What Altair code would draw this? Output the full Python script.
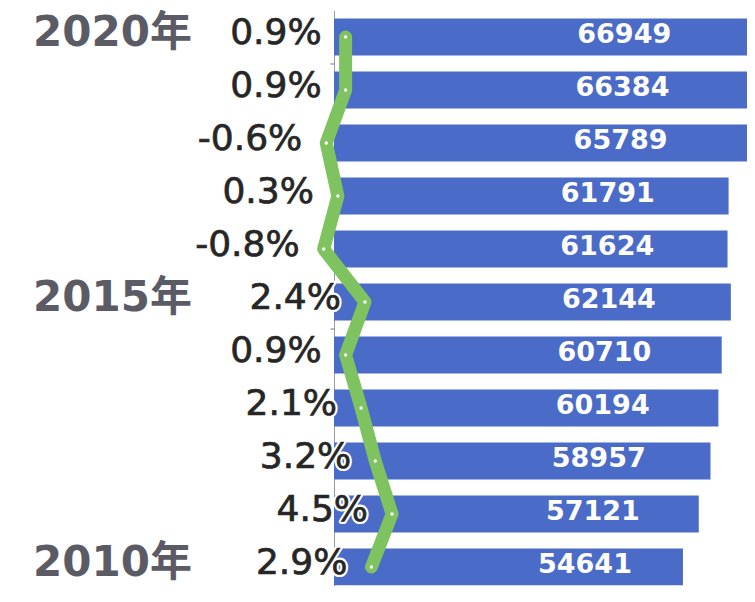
import altair as alt
import pandas as pd

# ---- data ----
years = ["2020", "2019", "2018", "2017", "2016", "2015", "2014", "2013", "2012", "2011", "2010"]
output = [66949, 66384, 65789, 61791, 61624, 62144, 60710, 60194, 58957, 57121, 54641]
growth = [0.9, 0.9, -0.6, 0.3, -0.8, 2.4, 0.9, 2.1, 3.2, 4.5, 2.9]
growth_labels = ["0.9%", "0.9%", "-0.6%", "0.3%", "-0.8%", "2.4%", "0.9%", "2.1%", "3.2%", "4.5%", "2.9%"]
year_marks = ["2020", "2015", "2010"]
year_labels = ["2020年", "2015年", "2010年"]

df = pd.DataFrame({
    "year": years,
    "value": output,
    "half": [v / 2 for v in output],
    "growth": growth,
    "glabel": growth_labels,
    "idx": list(range(len(years))),
})
ydf = pd.DataFrame({"year": year_marks, "label": year_labels})

W = 413          # plot width (chart total = 326 + 413 = 739, fits the page)
STEP = 53.0
H = 575          # visible plot height (total svg height 578)
BAND_RANGE = STEP * len(years)
BAR_MAX = W / 0.006386
LINE_MAX = W / 12.9
FONT = "DejaVu Sans, Noto Sans CJK SC"

yaxis = alt.Axis(values=year_marks, labels=False, title=None, ticks=True, tickSize=4,
                 tickColor="#777777", tickOffset=STEP / 2, domain=True, domainColor="#9a9a9a",
                 domainWidth=1, grid=False)
ysc = alt.Scale(domain=years, range=[0, BAND_RANGE], paddingInner=0.3, paddingOuter=0.15)


def Y():
    return alt.Y("year:N", scale=ysc, sort=None, axis=yaxis)


bar_x = alt.Scale(domain=[0, BAR_MAX], nice=False, zero=True)
line_x = alt.Scale(domain=[0, LINE_MAX], nice=False, zero=False)

bars = alt.Chart(df).mark_bar(color="#4a6bc8", clip=True).encode(
    x=alt.X("value:Q", scale=bar_x, axis=None), y=Y()
)

vals = alt.Chart(df).mark_text(
    color="white", fontSize=27, fontWeight="bold", font=FONT, dx=76.5, dy=-2,
    align="center", baseline="middle"
).encode(
    x=alt.X("half:Q", scale=bar_x, axis=None), y=Y(), text=alt.Text("value:Q", format="d")
)

line = alt.Chart(df).mark_line(
    color="#7ec35f", strokeWidth=13, strokeCap="round", strokeJoin="round"
).encode(
    x=alt.X("growth:Q", scale=line_x, axis=None), y=Y(), order=alt.Order("idx:Q")
)

pts = alt.Chart(df).mark_point(filled=True, color="white", size=12, opacity=1).encode(
    x=alt.X("growth:Q", scale=line_x, axis=None), y=Y()
)

halo = alt.Chart(df).mark_text(
    align="right", baseline="middle", dx=-24, dy=-4, fontSize=36, font=FONT,
    stroke="white", strokeWidth=5, strokeJoin="round", fill="white"
).encode(
    x=alt.X("growth:Q", scale=line_x, axis=None), y=Y(), text="glabel:N"
)

glab = alt.Chart(df).mark_text(
    align="right", baseline="middle", dx=-24, dy=-4, fontSize=36, font=FONT,
    color="#262626", stroke="#262626", strokeWidth=0.7
).encode(
    x=alt.X("growth:Q", scale=line_x, axis=None), y=Y(), text="glabel:N"
)

ylab = alt.Chart(ydf).mark_text(
    align="left", baseline="middle", fontSize=42, fontWeight="bold", font=FONT,
    color="#5b5b66", dy=-4
).encode(
    x=alt.value(-301), y=Y(), text="label:N"
)

chart = alt.layer(bars, vals, line, pts, halo, glab, ylab).resolve_scale(
    x="independent"
).properties(
    width=W, height=H,
    autosize=alt.AutoSizeParams(type="none"),
    padding={"left": 326, "top": 2.5, "right": 0, "bottom": 0},
).configure(background="white").configure_view(stroke=None)

chart.save("out.html", embed_options={"renderer": "svg", "actions": False})
